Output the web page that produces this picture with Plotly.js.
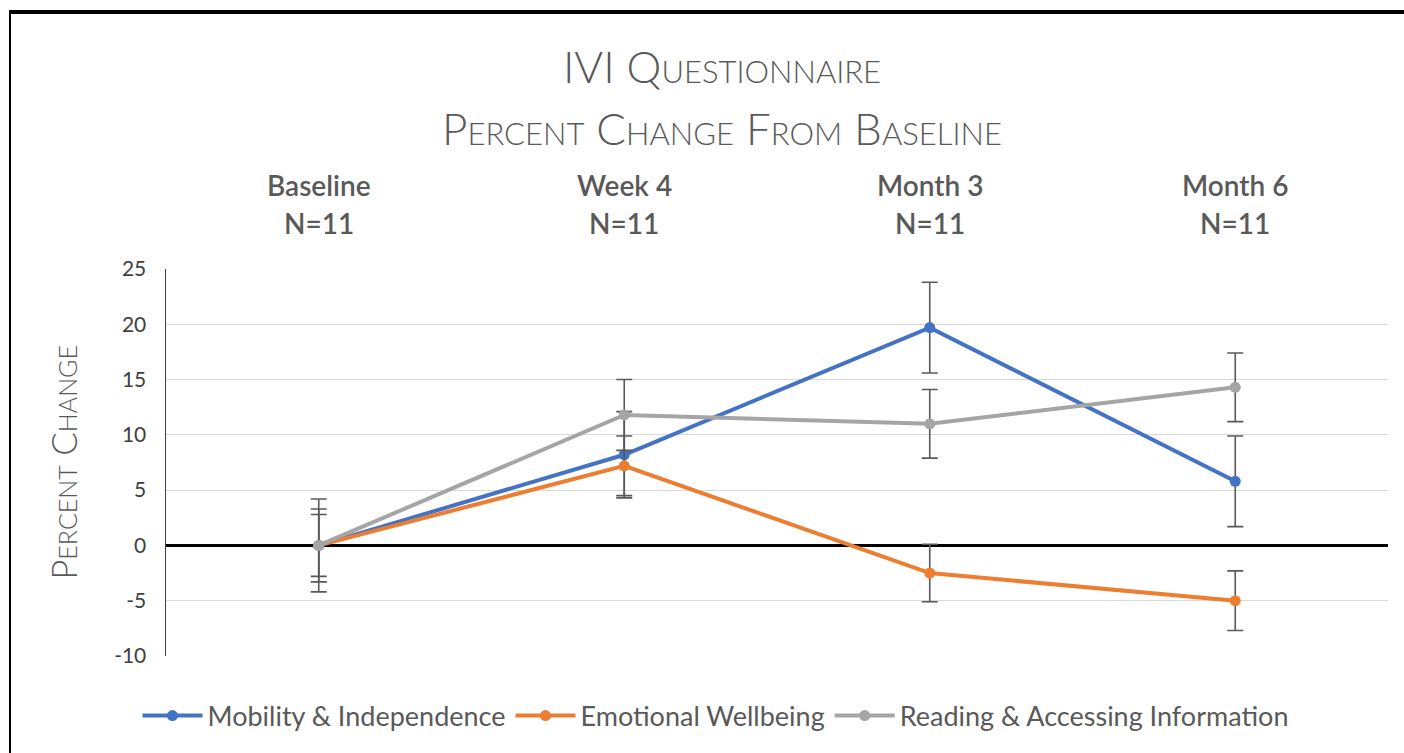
<!DOCTYPE html>
<html>
<head>
<meta charset="utf-8">
<script src="https://cdn.plot.ly/plotly-3.0.1.min.js"></script>
<style>
  html, body { margin: 0; padding: 0; background: #fff; }
  #chart { width: 1404px; height: 753px; }
  #frame { position: absolute; left: 9px; top: 10px; width: 1395px; height: 743px;
           border-top: 4px solid #000; border-left: 2px solid #000; pointer-events: none; box-sizing: border-box; }
</style>
</head>
<body>
<div id="chart"></div>
<div id="frame"></div>
<script>
// ---- data ----
const categories = ["Baseline", "Week 4", "Month 3", "Month 6"];
const nLabels = ["N=11", "N=11", "N=11", "N=11"];
const seriesNames = ["Mobility & Independence", "Emotional Wellbeing", "Reading & Accessing Information"];
const mobility = [0, 8.2, 19.7, 5.8];
const mobilityErr = [4.2, 3.9, 4.1, 4.1];
const emotional = [0, 7.2, -2.5, -5.0];
const emotionalErr = [2.8, 2.7, 2.6, 2.7];
const reading = [0, 11.8, 11.0, 14.3];
const readingErr = [3.3, 3.2, 3.1, 3.1];
const yTicks = [-10, -5, 0, 5, 10, 15, 20, 25];
const titleLine1 = "IVI Questionnaire";
const titleLine2 = "Percent Change From Baseline";
const yTitle = "Percent Change";

const colors = ["#4472C4", "#ED7D31", "#A5A5A5"];
const values = [mobility, emotional, reading];
const errs = [mobilityErr, emotionalErr, readingErr];

const traces = values.map((v, i) => ({
  type: "scatter",
  mode: "lines+markers",
  name: seriesNames[i],
  x: categories,
  y: v,
  line: { color: colors[i], width: 4 },
  marker: { color: colors[i], size: 11 },
  error_y: { type: "data", array: errs[i], visible: true, color: "#595959", thickness: 1.6, width: 8 },
  cliponaxis: false
}));

const txt = "#595959";
const plotLeft = 166, plotRight = 1388, plotTop = 269, plotBot = 656;
const pw = plotRight - plotLeft, ph = plotBot - plotTop;
const annotations = [];
categories.forEach((c, i) => {
  annotations.push({ x: c, xref: "x", y: (plotBot - 185) / ph, yref: "paper", yanchor: "middle",
    text: c, showarrow: false, font: { family: "Lato", size: 28, color: txt, weight: 600 } });
  annotations.push({ x: c, xref: "x", y: (plotBot - 223) / ph, yref: "paper", yanchor: "middle",
    text: nLabels[i], showarrow: false, font: { family: "Lato", size: 28, color: txt, weight: 600 } });
});
annotations.push({ x: (722 - plotLeft) / pw, xref: "paper", xanchor: "center",
  y: (plotBot - 128) / ph, yref: "paper", yanchor: "middle",
  text: titleLine2, showarrow: false,
  font: { family: "Lato", size: 44, color: txt, weight: 300, variant: "small-caps" } });

const layout = {
  width: 1404, height: 753,
  paper_bgcolor: "#fff", plot_bgcolor: "#fff",
  margin: { l: plotLeft, r: 1404 - plotRight, t: plotTop, b: 753 - plotBot },
  title: { text: titleLine1, x: 722 / 1404, xanchor: "center", xref: "container", y: 1 - 68 / 753, yref: "container",
    yanchor: "middle", font: { family: "Lato", size: 44, color: txt, weight: 300, variant: "small-caps" } },
  xaxis: { type: "category", range: [-0.5, 3.5], showticklabels: false, showgrid: false,
    zeroline: false, showline: false, ticks: "" },
  yaxis: { range: [-10, 25], tickvals: yTicks, ticktext: yTicks.map(String),
    tickfont: { family: "Lato", size: 21, color: "#404040" },
    showgrid: true, gridcolor: "#D9D9D9", gridwidth: 1,
    zeroline: true, zerolinecolor: "#000", zerolinewidth: 2.5,
    showline: true, linecolor: "#404040", linewidth: 1.5, ticks: "", ticklabelstandoff: 14,
    title: { text: yTitle, standoff: 26,
      font: { family: "Lato", size: 35, color: txt, weight: 300, variant: "small-caps" } } },
  legend: { orientation: "h", xref: "container", x: 0.5096, xanchor: "center",
    yref: "container", y: 1 - 716 / 753, yanchor: "middle",
    font: { family: "Lato", size: 27, color: txt }, itemwidth: 60, tracegroupgap: 0 },
  annotations: annotations,
  showlegend: true
};

Plotly.newPlot("chart", traces, layout, { displayModeBar: false, staticPlot: true });
</script>
</body>
</html>
